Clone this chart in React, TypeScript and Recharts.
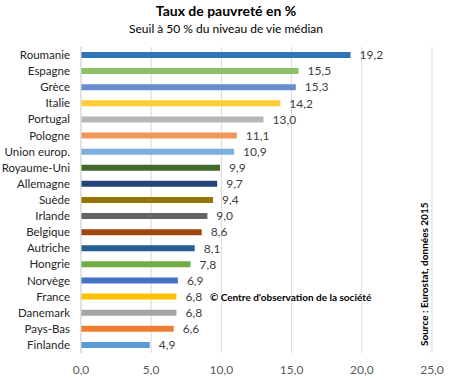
import {
  BarChart,
  Bar,
  Cell,
  XAxis,
  YAxis,
  CartesianGrid,
  LabelList,
} from "recharts";

const countries = [
  "Roumanie",
  "Espagne",
  "Grèce",
  "Italie",
  "Portugal",
  "Pologne",
  "Union europ.",
  "Royaume-Uni",
  "Allemagne",
  "Suède",
  "Irlande",
  "Belgique",
  "Autriche",
  "Hongrie",
  "Norvège",
  "France",
  "Danemark",
  "Pays-Bas",
  "Finlande",
];

const rates = [
  19.2, 15.5, 15.3, 14.2, 13.0, 11.1, 10.9, 9.9, 9.7, 9.4, 9.0, 8.6, 8.1, 7.8,
  6.9, 6.8, 6.8, 6.6, 4.9,
];

const COLORS = [
  "#2E75B6",
  "#8CC168",
  "#698ED0",
  "#FFCD33",
  "#B7B7B7",
  "#F1975A",
  "#7CAFDD",
  "#43682B",
  "#264478",
  "#997300",
  "#636363",
  "#9E480E",
  "#255E91",
  "#70AD47",
  "#4472C4",
  "#FFC000",
  "#A5A5A5",
  "#ED7D31",
  "#5B9BD5",
];

const xTicks = [0, 5, 10, 15, 20, 25];

const data = countries.map((name, i) => ({ name, value: rates[i] }));

const fr = (v: number) => v.toFixed(1).replace(".", ",");

const FONT = "Lato, 'Noto Sans', sans-serif";

// country names, drawn without wrapping
const CountryTick = (props: any) => {
  const { x, y, payload } = props;
  return (
    <text
      x={x}
      y={y}
      dy={4}
      textAnchor="end"
      fill="#262626"
      fontSize={11.5}
      fontFamily={FONT}
    >
      {payload.value}
    </text>
  );
};

export default function App() {
  return (
    <div
      style={{
        position: "absolute",
        left: 0,
        top: 0,
        width: 452,
        height: 380,
        background: "#fff",
        fontFamily: FONT,
      }}
    >
      <div
        style={{
          position: "absolute",
          top: 2,
          width: 452,
          textAlign: "center",
          fontWeight: 700,
          fontSize: 14,
          color: "#000",
        }}
      >
        Taux de pauvreté en %
      </div>
      <div
        style={{
          position: "absolute",
          top: 21,
          width: 452,
          textAlign: "center",
          fontSize: 12,
          color: "#000",
        }}
      >
        Seuil à 50 % du niveau de vie médian
      </div>
      <BarChart
        width={452}
        height={380}
        data={data}
        layout="vertical"
        margin={{ top: 47, right: 20, bottom: 5, left: 0 }}
        barCategoryGap={5}
      >
        <CartesianGrid horizontal={false} stroke="#D9D9D9" />
        <XAxis
          type="number"
          domain={[0, 25]}
          ticks={xTicks}
          tickFormatter={fr}
          axisLine={false}
          tickLine={false}
          tickMargin={6}
          height={22}
          tick={{ fill: "#595959", fontSize: 12, fontFamily: FONT }}
        />
        <YAxis
          type="category"
          dataKey="name"
          width={81}
          axisLine={{ stroke: "#D9D9D9" }}
          tickLine={false}
          tickSize={0}
          tickMargin={11}
          interval={0}
          tick={<CountryTick />}
        />
        <Bar dataKey="value" barSize={6} isAnimationActive={false}>
          {data.map((d, i) => (
            <Cell key={d.name} fill={COLORS[i]} />
          ))}
          <LabelList
            dataKey="value"
            position="right"
            offset={9}
            formatter={(v: any) => fr(Number(v))}
            style={{ fill: "#404040", fontSize: 12, fontFamily: FONT }}
          />
        </Bar>
      </BarChart>
      <div
        style={{
          position: "absolute",
          left: 210,
          top: 291,
          fontSize: 10,
          fontWeight: 700,
          color: "#000",
          whiteSpace: "nowrap",
        }}
      >
        © Centre d'observation de la société
      </div>
      <div
        style={{
          position: "absolute",
          left: 418,
          top: 346,
          transform: "rotate(-90deg)",
          transformOrigin: "0 0",
          fontSize: 10,
          fontWeight: 700,
          color: "#000",
          whiteSpace: "nowrap",
        }}
      >
        Source : Eurostat, données 2015
      </div>
    </div>
  );
}
